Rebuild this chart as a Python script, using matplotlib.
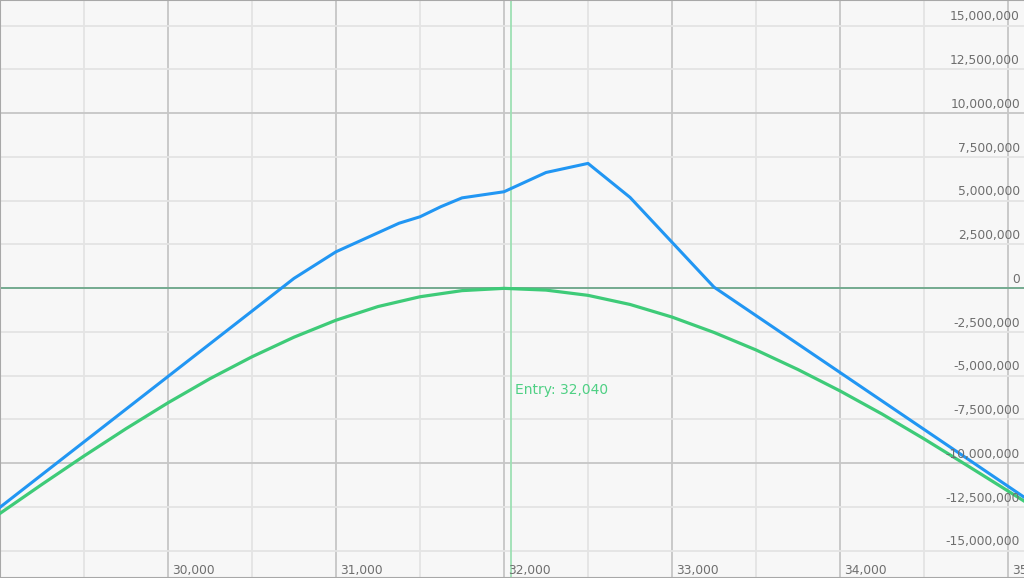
import matplotlib
matplotlib.use("Agg")
import matplotlib.pyplot as plt
from matplotlib.ticker import MultipleLocator

# ---- data ----
expiry_x = [29000, 30750, 31000, 31375, 31500, 31625, 31750, 32000, 32250, 32500, 32750, 33250, 35100]
expiry_y = [-12.53e6, 0.55e6, 2.07e6, 3.70e6, 4.07e6, 4.65e6, 5.15e6, 5.50e6, 6.60e6, 7.12e6, 5.18e6, 0.05e6, -11.98e6]

current_x = [29000, 29250, 29500, 29750, 30000, 30250, 30500, 30750, 31000, 31250, 31500, 31750,
             32000, 32250, 32500, 32750, 33000, 33250, 33500, 33750, 34000, 34250, 34500, 34750,
             35000, 35100]
current_y = [-12.88e6, -11.22e6, -9.60e6, -8.04e6, -6.56e6, -5.18e6, -3.93e6, -2.81e6, -1.84e6, -1.06e6,
             -0.50e6, -0.15e6, -0.02e6, -0.12e6, -0.42e6, -0.94e6, -1.66e6, -2.54e6, -3.54e6, -4.66e6,
             -5.88e6, -7.20e6, -8.62e6, -10.1e6, -11.6e6, -12.2e6]

entry_price = 32040
entry_label = "Entry: 32,040"

x_ticks = [30000, 31000, 32000, 33000, 34000, 35000]
x_tick_labels = ["30,000", "31,000", "32,000", "33,000", "34,000", "35,000"]
y_ticks = [15e6, 12.5e6, 10e6, 7.5e6, 5e6, 2.5e6, 0, -2.5e6, -5e6, -7.5e6, -10e6, -12.5e6, -15e6]
y_tick_labels = ["15,000,000", "12,500,000", "10,000,000", "7,500,000", "5,000,000", "2,500,000", "0",
                 "-2,500,000", "-5,000,000", "-7,500,000", "-10,000,000", "-12,500,000", "-15,000,000"]

# ---- figure ----
fig = plt.figure(figsize=(10.24, 5.78), dpi=100)
ax = fig.add_axes([0, 0, 1, 1])
ax.set_facecolor("#f7f7f7")
fig.patch.set_facecolor("#f7f7f7")

ax.set_xlim(29000, 29000 + 1024 / 0.168)
ax.set_ylim(-(578 - 288) / 17.5 * 1e6, 288 / 17.5 * 1e6)

# grid
ax.xaxis.set_major_locator(MultipleLocator(1000))
ax.xaxis.set_minor_locator(MultipleLocator(500))
ax.yaxis.set_major_locator(MultipleLocator(10e6))
ax.yaxis.set_minor_locator(MultipleLocator(2.5e6))
ax.grid(which="minor", color="#e4e4e4", linewidth=1.3)
ax.grid(which="major", color="#c6c6c6", linewidth=1.3)
ax.set_axisbelow(True)
ax.tick_params(which="both", length=0, labelbottom=False, labelleft=False)

for s in ["left", "top", "bottom"]:
    ax.spines[s].set_color("#a8a8a8")
    ax.spines[s].set_linewidth(1.5)
ax.spines["right"].set_visible(False)

# zero line & entry line
ax.axhline(0, color="#6fa98c", linewidth=1.3, zorder=2)
ax.axvline(entry_price, color="#9ee0b4", linewidth=1.3, zorder=2)

# series
ax.plot(current_x, current_y, color="#3ecb78", linewidth=2.3, zorder=3, solid_joinstyle="round")
ax.plot(expiry_x, expiry_y, color="#2196f3", linewidth=2.2, zorder=4, solid_joinstyle="round")

# entry label
ax.annotate(entry_label, xy=(entry_price, -5.85e6), xytext=(3, 0), textcoords="offset points",
            ha="left", va="center", color="#4fd084", fontsize=10)

# y tick labels (inside, right)
for v, lab in zip(y_ticks, y_tick_labels):
    ax.annotate(lab, xy=(1 - 4 / 1024, v), xycoords=("axes fraction", "data"),
                xytext=(0, 1.5), textcoords="offset points", ha="right", va="bottom",
                color="#6e6e6e", fontsize=8.8, zorder=5)

# x tick labels (inside, bottom)
for v, lab in zip(x_ticks, x_tick_labels):
    ax.annotate(lab, xy=(v, 0), xycoords=("data", "axes fraction"),
                xytext=(3, 1), textcoords="offset points", ha="left", va="bottom",
                color="#6e6e6e", fontsize=8.8, zorder=5, annotation_clip=False)

fig.savefig("out.png", dpi=100, facecolor=fig.get_facecolor())
